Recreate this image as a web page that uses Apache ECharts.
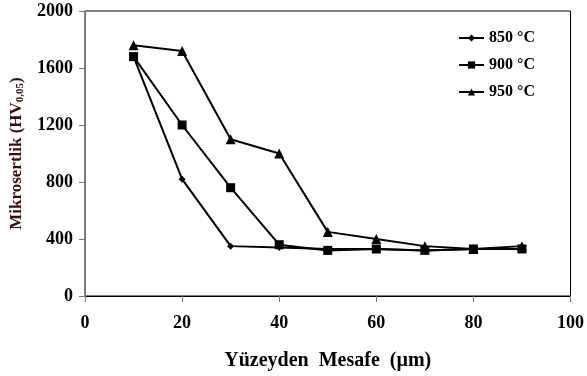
<!DOCTYPE html>
<html>
<head>
<meta charset="utf-8">
<script src="https://cdn.jsdelivr.net/npm/echarts@6/dist/echarts.min.js"></script>
<style>
  html, body { margin: 0; padding: 0; background: #fff; }
  #chart { width: 587px; height: 376px; }
</style>
</head>
<body>
<div id="chart"></div>
<script>
const distances = [10, 20, 30, 40, 50, 60, 70, 80, 90];
const hv850 = [1680, 820, 350, 340, 330, 330, 320, 330, 330];
const hv900 = [1680, 1200, 760, 360, 320, 330, 320, 330, 330];
const hv950 = [1760, 1720, 1100, 1000, 450, 400, 350, 330, 350];
const seriesNames = ['850 °C', '900 °C', '950 °C'];

const font = 'Liberation Serif';

function pairs(values) {
    return distances.map((d, i) => [d, values[i]]);
}

function lineSeries(name, values, symbol, size) {
    return {
        name: name,
        type: 'line',
        data: pairs(values),
        symbol: symbol,
        symbolSize: size,
        lineStyle: { color: '#000', width: 2 },
        itemStyle: { color: '#000' },
        animation: false
    };
}

const chart = echarts.init(document.getElementById('chart'));
chart.setOption({
    backgroundColor: '#fff',
    grid: {
        left: 85, right: 16, top: 11, bottom: 79,
        show: true, borderColor: '#000', borderWidth: 1
    },
    legend: {
        orient: 'vertical',
        left: 453, top: 25,
        itemGap: 11,
        itemWidth: 25, itemHeight: 9,
        textStyle: { fontFamily: font, fontWeight: 'bold', fontSize: 16, color: '#000' },
        data: seriesNames
    },
    xAxis: {
        type: 'value',
        min: 0, max: 100, interval: 20,
        splitLine: { show: false },
        axisLine: { lineStyle: { color: '#000' } },
        axisTick: { inside: false, length: 6, lineStyle: { color: '#777' } },
        axisLabel: { fontFamily: font, fontWeight: 'bold', fontSize: 18, color: '#000', margin: 18 },
        name: 'Yüzeyden  Mesafe  (µm)',
        nameLocation: 'middle',
        nameGap: 55,
        nameTextStyle: { fontFamily: font, fontWeight: 'bold', fontSize: 20, color: '#000' }
    },
    yAxis: {
        type: 'value',
        min: 0, max: 2000, interval: 400,
        splitLine: { show: false },
        axisLine: { show: true, lineStyle: { color: '#777' } },
        axisTick: { show: true, length: 6, lineStyle: { color: '#777' } },
        axisLabel: {
            fontFamily: font, fontWeight: 'bold', fontSize: 18, color: '#000', margin: 12,
            formatter: v => String(v)
        },
        name: '{a|Mikrosertlik (HV}{s|0,05}{a|)}',
        nameLocation: 'middle',
        nameGap: 54,
        nameTextStyle: {
            rich: {
                a: { fontFamily: font, fontWeight: 'bold', fontSize: 17, color: '#3a0d0d' },
                s: { fontFamily: font, fontWeight: 'bold', fontSize: 11, color: '#3a0d0d', verticalAlign: 'bottom', padding: [8, 0, 0, 0] }
            }
        }
    },
    series: [
        lineSeries(seriesNames[0], hv850, 'diamond', 7),
        lineSeries(seriesNames[1], hv900, 'rect', 9),
        lineSeries(seriesNames[2], hv950, 'triangle', 10)
    ]
});
</script>
</body>
</html>
